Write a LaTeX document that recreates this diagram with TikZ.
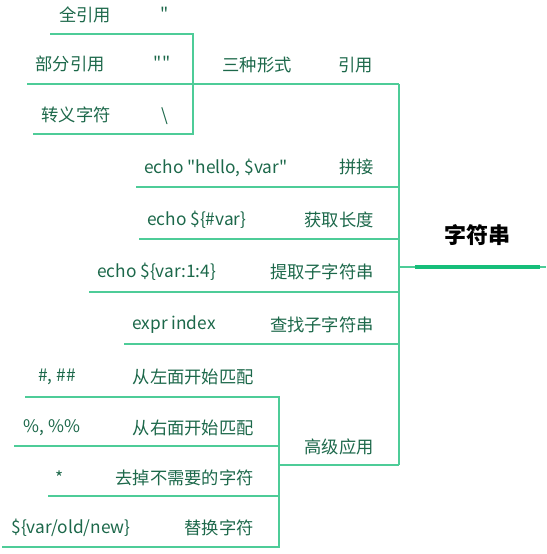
\documentclass[tikz,border=0pt]{standalone}
\usepackage{fontspec}
\setmainfont{Noto Sans CJK SC}[Ligatures=TeXOff]
\definecolor{linegreen}{RGB}{78,204,152}
\definecolor{textgreen}{RGB}{28,104,74}
\definecolor{rootgreen}{RGB}{22,190,122}
\begin{document}
\begin{tikzpicture}[x=1pt,y=-1pt,
  ln/.style={draw=linegreen, line width=1.4pt},
  rootbar/.style={draw=rootgreen, line width=4.5pt},
  lbl/.style={text=textgreen, font=\fontsize{17.3}{20}\selectfont, inner sep=0pt},
  rootlbl/.style={text=black, font=\fontsize{22}{25}\selectfont\bfseries, inner sep=0pt}
]
\useasboundingbox (0,0) rectangle (546,554);
% junction coordinates
\coordinate (a1l) at (50,34);   \coordinate (a1r) at (193,34);
\coordinate (a2l) at (27,84);   \coordinate (a2r) at (193,84);
\coordinate (a3l) at (33,134);  \coordinate (a3r) at (193,134);
\coordinate (yyr) at (399,84);
\coordinate (b1l) at (136,187); \coordinate (b1r) at (399,187);
\coordinate (b2l) at (139,239); \coordinate (b2r) at (399,239);
\coordinate (rtl) at (399,267); \coordinate (rtr) at (546,267);
\coordinate (rbl) at (415,267); \coordinate (rbr) at (540,267);
\coordinate (b3l) at (89,292);  \coordinate (b3r) at (399,292);
\coordinate (b4l) at (124,344); \coordinate (b4r) at (399,344);
\coordinate (b5l) at (279,465); \coordinate (b5r) at (399,465);
\coordinate (c1l) at (25,397);  \coordinate (c1r) at (279,397);
\coordinate (c2l) at (14,446);  \coordinate (c2r) at (279,446);
\coordinate (c3l) at (48,496);  \coordinate (c3r) at (279,496);
\coordinate (c4l) at (2,547);   \coordinate (c4r) at (279,547);
% lines
\draw[ln] (a1l) -- (a1r) -- (a3r) -- (a3l);
\draw[ln] (a2l) -- (a2r) -- (yyr);
\draw[ln] (yyr) -- (b5r);
\draw[ln] (b1l) -- (b1r);
\draw[ln] (b2l) -- (b2r);
\draw[ln] (b3l) -- (b3r);
\draw[ln] (b4l) -- (b4r);
\draw[ln] (b5l) -- (b5r);
\draw[ln] (rtl) -- (rtr);
\draw[rootbar] (rbl) -- (rbr);
\draw[ln] (c1l) -- (c1r) -- (c4r) -- (c4l);
\draw[ln] (c2l) -- (c2r);
\draw[ln] (c3l) -- (c3r);
% texts
\node[rootlbl] (root) at (477,235) {字符串};
\node[lbl] (t1) at (85,15) {全引用};
\node[lbl] (q1) at (165,14) {"};
\node[lbl] (t2) at (70,64) {部分引用};
\node[lbl] (q2) at (162,63) {""};
\node[lbl] (t3) at (76,115) {转义字符};
\node[lbl] (q3) at (165,116) {\textbackslash};
\node[lbl] (sx) at (257,65) {三种形式};
\node[lbl, anchor=east] (yy) at (373,65) {引用};
\node[lbl, anchor=west] (e1) at (144,168) {echo "hello, \$var"};
\node[lbl, anchor=east] (k1) at (374,167) {拼接};
\node[lbl, anchor=west] (e2) at (147,220) {echo \$\{\#var\}};
\node[lbl, anchor=east] (k2) at (374,220) {获取长度};
\node[lbl, anchor=west] (e3) at (97,272) {echo \$\{var:1:4\}};
\node[lbl, anchor=east] (k3) at (374,272) {提取子字符串};
\node[lbl, anchor=west] (e4) at (132,325) {expr index};
\node[lbl, anchor=east] (k4) at (374,325) {查找子字符串};
\node[lbl, anchor=east] (k5) at (374,447) {高级应用};
\node[lbl] (s1) at (57,377) {\#, \#\#};
\node[lbl, anchor=east] (m1) at (254,377) {从左面开始匹配};
\node[lbl] (s2) at (52,428) {\%, \%\%};
\node[lbl, anchor=east] (m2) at (254,428) {从右面开始匹配};
\node[lbl] (s3) at (60,478) {*};
\node[lbl, anchor=east] (m3) at (254,478) {去掉不需要的字符};
\node[lbl] (s4) at (71,528) {\$\{var/old/new\}};
\node[lbl, anchor=east] (m4) at (254,528) {替换字符};
\end{tikzpicture}
\end{document}
